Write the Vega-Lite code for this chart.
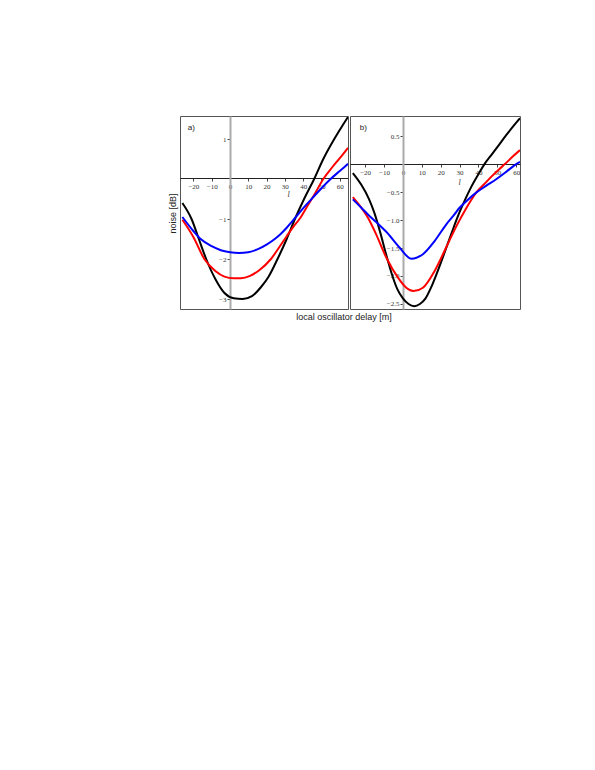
{
  "$schema": "https://vega.github.io/schema/vega-lite/v6.json",
  "padding": {"left": 167, "top": 115, "right": 5, "bottom": 5},
  "background": "white",
  "title": {"text": "local oscillator delay [m]", "orient": "bottom", "anchor": "middle", "font": "Liberation Sans", "fontSize": 9, "fontWeight": "normal", "color": "#222", "offset": 3},
  "config": {
    "view": {"stroke": "#555", "strokeWidth": 1},
    "axis": {"grid": false, "labelFont": "Liberation Serif", "labelFontSize": 7, "labelColor": "#333", "tickColor": "#444", "tickSize": 3, "labelPadding": 1}
  },
  "datasets": {
    "curves": [
      {"panel":"a","series":"k","x":-26,"y":-0.6},{"panel":"a","series":"k","x":-21,"y":-1.0},{"panel":"a","series":"k","x":-17,"y":-1.5},{"panel":"a","series":"k","x":-13,"y":-2.0},{"panel":"a","series":"k","x":-8,"y":-2.5},{"panel":"a","series":"k","x":-3,"y":-2.85},{"panel":"a","series":"k","x":2,"y":-2.98},{"panel":"a","series":"k","x":7,"y":-3.0},{"panel":"a","series":"k","x":12,"y":-2.93},{"panel":"a","series":"k","x":17,"y":-2.7},{"panel":"a","series":"k","x":21,"y":-2.45},{"panel":"a","series":"k","x":26,"y":-2.0},{"panel":"a","series":"k","x":31,"y":-1.5},{"panel":"a","series":"k","x":35.5,"y":-1.0},{"panel":"a","series":"k","x":40.5,"y":-0.5},{"panel":"a","series":"k","x":46,"y":0.0},{"panel":"a","series":"k","x":51,"y":0.5},{"panel":"a","series":"k","x":57,"y":1.0},{"panel":"a","series":"k","x":61,"y":1.3},{"panel":"a","series":"k","x":64.5,"y":1.55},
      {"panel":"a","series":"r","x":-26,"y":-1.02},{"panel":"a","series":"r","x":-20,"y":-1.45},{"panel":"a","series":"r","x":-14,"y":-2.0},{"panel":"a","series":"r","x":-8,"y":-2.3},{"panel":"a","series":"r","x":-3,"y":-2.44},{"panel":"a","series":"r","x":2,"y":-2.48},{"panel":"a","series":"r","x":6,"y":-2.48},{"panel":"a","series":"r","x":11,"y":-2.42},{"panel":"a","series":"r","x":16,"y":-2.28},{"panel":"a","series":"r","x":22.4,"y":-2.0},{"panel":"a","series":"r","x":27,"y":-1.7},{"panel":"a","series":"r","x":31,"y":-1.43},{"panel":"a","series":"r","x":35,"y":-1.17},{"panel":"a","series":"r","x":38,"y":-1.0},{"panel":"a","series":"r","x":42,"y":-0.7},{"panel":"a","series":"r","x":46,"y":-0.4},{"panel":"a","series":"r","x":51,"y":0.0},{"panel":"a","series":"r","x":56,"y":0.3},{"panel":"a","series":"r","x":60,"y":0.52},{"panel":"a","series":"r","x":64.5,"y":0.78},
      {"panel":"a","series":"b","x":-26,"y":-0.95},{"panel":"a","series":"b","x":-20,"y":-1.3},{"panel":"a","series":"b","x":-16,"y":-1.5},{"panel":"a","series":"b","x":-10,"y":-1.68},{"panel":"a","series":"b","x":-5,"y":-1.78},{"panel":"a","series":"b","x":0,"y":-1.83},{"panel":"a","series":"b","x":5,"y":-1.85},{"panel":"a","series":"b","x":10,"y":-1.83},{"panel":"a","series":"b","x":15,"y":-1.76},{"panel":"a","series":"b","x":20,"y":-1.64},{"panel":"a","series":"b","x":25,"y":-1.48},{"panel":"a","series":"b","x":28,"y":-1.36},{"panel":"a","series":"b","x":31,"y":-1.22},{"panel":"a","series":"b","x":34,"y":-1.06},{"panel":"a","series":"b","x":38,"y":-0.84},{"panel":"a","series":"b","x":42,"y":-0.63},{"panel":"a","series":"b","x":46,"y":-0.43},{"panel":"a","series":"b","x":50,"y":-0.23},{"panel":"a","series":"b","x":55,"y":0.0},{"panel":"a","series":"b","x":60,"y":0.2},{"panel":"a","series":"b","x":64.5,"y":0.38},
      {"panel":"b","series":"k","x":-26.5,"y":-0.16},{"panel":"b","series":"k","x":-22,"y":-0.37},{"panel":"b","series":"k","x":-18,"y":-0.62},{"panel":"b","series":"k","x":-15,"y":-0.88},{"panel":"b","series":"k","x":-12,"y":-1.22},{"panel":"b","series":"k","x":-9,"y":-1.6},{"panel":"b","series":"k","x":-6,"y":-1.95},{"panel":"b","series":"k","x":-3,"y":-2.23},{"panel":"b","series":"k","x":0,"y":-2.4},{"panel":"b","series":"k","x":3,"y":-2.5},{"panel":"b","series":"k","x":6,"y":-2.54},{"panel":"b","series":"k","x":9,"y":-2.5},{"panel":"b","series":"k","x":12,"y":-2.4},{"panel":"b","series":"k","x":15,"y":-2.2},{"panel":"b","series":"k","x":18,"y":-1.95},{"panel":"b","series":"k","x":21,"y":-1.68},{"panel":"b","series":"k","x":24,"y":-1.4},{"panel":"b","series":"k","x":27,"y":-1.12},{"panel":"b","series":"k","x":30,"y":-0.86},{"panel":"b","series":"k","x":33,"y":-0.63},{"panel":"b","series":"k","x":36,"y":-0.42},{"panel":"b","series":"k","x":40,"y":-0.18},{"panel":"b","series":"k","x":43.2,"y":0.0},{"panel":"b","series":"k","x":47,"y":0.17},{"panel":"b","series":"k","x":51,"y":0.35},{"panel":"b","series":"k","x":55,"y":0.53},{"panel":"b","series":"k","x":60,"y":0.74},{"panel":"b","series":"k","x":62,"y":0.82},
      {"panel":"b","series":"r","x":-26.5,"y":-0.59},{"panel":"b","series":"r","x":-22,"y":-0.78},{"panel":"b","series":"r","x":-18.5,"y":-0.96},{"panel":"b","series":"r","x":-14.1,"y":-1.26},{"panel":"b","series":"r","x":-8.8,"y":-1.67},{"panel":"b","series":"r","x":-2.6,"y":-2.03},{"panel":"b","series":"r","x":1.8,"y":-2.21},{"panel":"b","series":"r","x":5.6,"y":-2.27},{"panel":"b","series":"r","x":10.6,"y":-2.21},{"panel":"b","series":"r","x":16.8,"y":-1.91},{"panel":"b","series":"r","x":22.9,"y":-1.49},{"panel":"b","series":"r","x":26,"y":-1.27},{"panel":"b","series":"r","x":29.1,"y":-1.06},{"panel":"b","series":"r","x":33,"y":-0.82},{"panel":"b","series":"r","x":36,"y":-0.65},{"panel":"b","series":"r","x":39,"y":-0.5},{"panel":"b","series":"r","x":43,"y":-0.36},{"panel":"b","series":"r","x":47,"y":-0.22},{"panel":"b","series":"r","x":51,"y":-0.09},{"panel":"b","series":"r","x":54,"y":0.0},{"panel":"b","series":"r","x":58,"y":0.13},{"panel":"b","series":"r","x":62,"y":0.25},
      {"panel":"b","series":"b","x":-26.5,"y":-0.63},{"panel":"b","series":"b","x":-22,"y":-0.78},{"panel":"b","series":"b","x":-18.5,"y":-0.9},{"panel":"b","series":"b","x":-14,"y":-1.04},{"panel":"b","series":"b","x":-8.8,"y":-1.21},{"panel":"b","series":"b","x":-1.8,"y":-1.49},{"panel":"b","series":"b","x":4.4,"y":-1.69},{"panel":"b","series":"b","x":10.6,"y":-1.61},{"panel":"b","series":"b","x":16.8,"y":-1.375},{"panel":"b","series":"b","x":22.9,"y":-1.08},{"panel":"b","series":"b","x":27.3,"y":-0.9},{"panel":"b","series":"b","x":30,"y":-0.78},{"panel":"b","series":"b","x":34,"y":-0.65},{"panel":"b","series":"b","x":38.8,"y":-0.51},{"panel":"b","series":"b","x":44,"y":-0.39},{"panel":"b","series":"b","x":49.4,"y":-0.27},{"panel":"b","series":"b","x":55,"y":-0.13},{"panel":"b","series":"b","x":60,"y":0.0},{"panel":"b","series":"b","x":62,"y":0.04}
    ],
    "tags": [
      {"panel":"a","x":-23,"y":1.28,"text":"a)"},
      {"panel":"b","x":-22.8,"y":0.64,"text":"b)"}
    ]
  },
  "hconcat": [
    {
      "width": 168, "height": 193,
      "encoding": {
        "x": {"field": "x", "type": "quantitative", "scale": {"domain": [-27.3, 64.5], "nice": false, "zero": false},
          "axis": {"orient": "bottom", "offset": -131, "values": [-20,-10,0,10,20,30,40,50,60], "labelOverlap": false, "labelBound": false, "labelFlush": false, "domainColor": "#222", "domainWidth": 1,
            "title": "l", "titleFont": "Liberation Serif", "titleFontStyle": "italic", "titleFontWeight": "normal", "titleFontSize": 8, "titleColor": "#333", "titleX": 108, "titleY": 16, "titleBaseline": "middle", "titleAlign": "center"}},
        "y": {"field": "y", "type": "quantitative", "scale": {"domain": [-3.25, 1.575], "nice": false, "zero": false},
          "axis": {"orient": "left", "offset": -50, "values": [-3,-2,-1,1], "format": "d", "labelOverlap": false, "labelBound": false, "labelFlush": false, "domainColor": "#aaa", "domainWidth": 2,
            "title": "noise [dB]", "titleFont": "Liberation Sans", "titleFontWeight": "normal", "titleFontSize": 9, "titleColor": "#222", "titleX": -53, "titleY": 97, "titleAngle": -90, "titleBaseline": "bottom", "titleAlign": "center"}}
      },
      "layer": [
        {
          "data": {"name": "curves"},
          "transform": [{"filter": "datum.panel == 'a'"}],
          "mark": {"type": "line", "strokeWidth": 2, "interpolate": "monotone", "clip": true},
          "encoding": {
            "color": {"field": "series", "type": "nominal", "scale": {"domain": ["k","r","b"], "range": ["#000000","#ff0000","#0000ff"]}, "legend": null}
          }
        },
        {
          "data": {"name": "tags"},
          "transform": [{"filter": "datum.panel == 'a'"}],
          "mark": {"type": "text", "align": "left", "baseline": "middle", "font": "Liberation Sans", "fontSize": 8, "color": "#222"},
          "encoding": {"text": {"field": "text"}}
        }
      ]
    },
    {
      "width": 170, "height": 193,
      "encoding": {
        "x": {"field": "x", "type": "quantitative", "scale": {"domain": [-28, 62], "nice": false, "zero": false},
          "axis": {"orient": "bottom", "offset": -145, "values": [-20,-10,0,10,20,30,40,50,60], "labelOverlap": false, "labelBound": false, "labelFlush": false, "domainColor": "#222", "domainWidth": 1,
            "title": "l", "titleFont": "Liberation Serif", "titleFontStyle": "italic", "titleFontWeight": "normal", "titleFontSize": 8, "titleColor": "#333", "titleX": 109, "titleY": 18, "titleBaseline": "middle", "titleAlign": "center"}},
        "y": {"field": "y", "type": "quantitative", "scale": {"domain": [-2.59, 0.86], "nice": false, "zero": false},
          "axis": {"orient": "left", "offset": -53, "values": [-2.5,-2,-1.5,-1,-0.5,0.5], "format": ".1f", "labelOverlap": false, "labelBound": false, "labelFlush": false, "domainColor": "#aaa", "domainWidth": 2, "title": null}}
      },
      "layer": [
        {
          "data": {"name": "curves"},
          "transform": [{"filter": "datum.panel == 'b'"}],
          "mark": {"type": "line", "strokeWidth": 2, "interpolate": "monotone", "clip": true},
          "encoding": {
            "color": {"field": "series", "type": "nominal", "scale": {"domain": ["k","r","b"], "range": ["#000000","#ff0000","#0000ff"]}, "legend": null}
          }
        },
        {
          "data": {"name": "tags"},
          "transform": [{"filter": "datum.panel == 'b'"}],
          "mark": {"type": "text", "align": "left", "baseline": "middle", "font": "Liberation Sans", "fontSize": 8, "color": "#222"},
          "encoding": {"text": {"field": "text"}}
        }
      ]
    }
  ],
  "spacing": 0
}
